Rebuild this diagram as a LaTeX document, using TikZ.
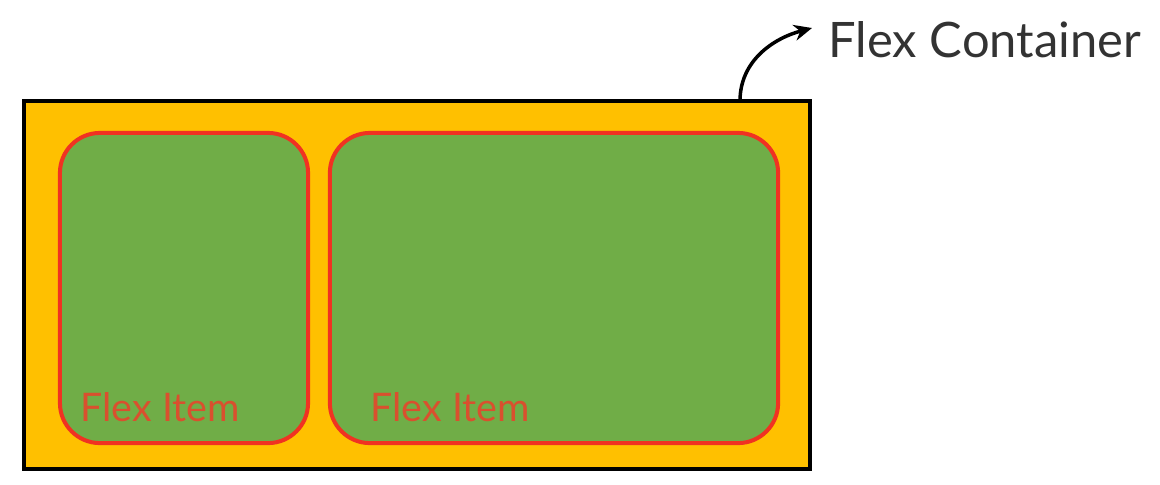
\documentclass[tikz,border=0pt]{standalone}
\usepackage{fontspec}
\setmainfont{Lato}
\usetikzlibrary{arrows.meta,positioning}
\definecolor{boxorange}{HTML}{FFC000}
\definecolor{itemgreen}{HTML}{70AD47}
\definecolor{itemred}{HTML}{F03222}
\definecolor{labelred}{HTML}{D9502E}
\definecolor{labelgray}{HTML}{333333}
\tikzset{
  container/.style={rectangle, draw=black, fill=boxorange, line width=0.04cm, inner sep=0pt},
  flexitem/.style={rectangle, rounded corners=0.4cm, draw=itemred, fill=itemgreen, line width=0.04cm, inner sep=0pt},
  itemlabel/.style={text=labelred, font=\fontsize{11.2}{13}\selectfont, inner sep=0pt, anchor=base west},
}
\begin{document}
\begin{tikzpicture}[x=0.01cm, y=-0.01cm]
  \useasboundingbox (0,0) rectangle (1160,484);
  \node[container, minimum width=7.86cm, minimum height=3.68cm] (box) at (417,285) {};
  \node[flexitem, minimum width=2.48cm, minimum height=3.10cm] (item1) at (184,288) {};
  \node[flexitem, minimum width=4.48cm, minimum height=3.10cm] (item2) at (554,288) {};
  \node[itemlabel] (lab1) at (80,421) {Flex Item};
  \node[itemlabel] (lab2) at (370,421) {Flex Item};
  \node[text=labelgray, font=\fontsize{13.9}{16}\selectfont, anchor=base west, inner sep=0pt] (title) at (828,57) {Flex Container};
  \coordinate (start) at (740,101);
  \draw[-{Stealth[length=0.18cm, width=0.16cm]}, line width=0.035cm] (start) to[out=90, in=195] (812,28);
\end{tikzpicture}
\end{document}
